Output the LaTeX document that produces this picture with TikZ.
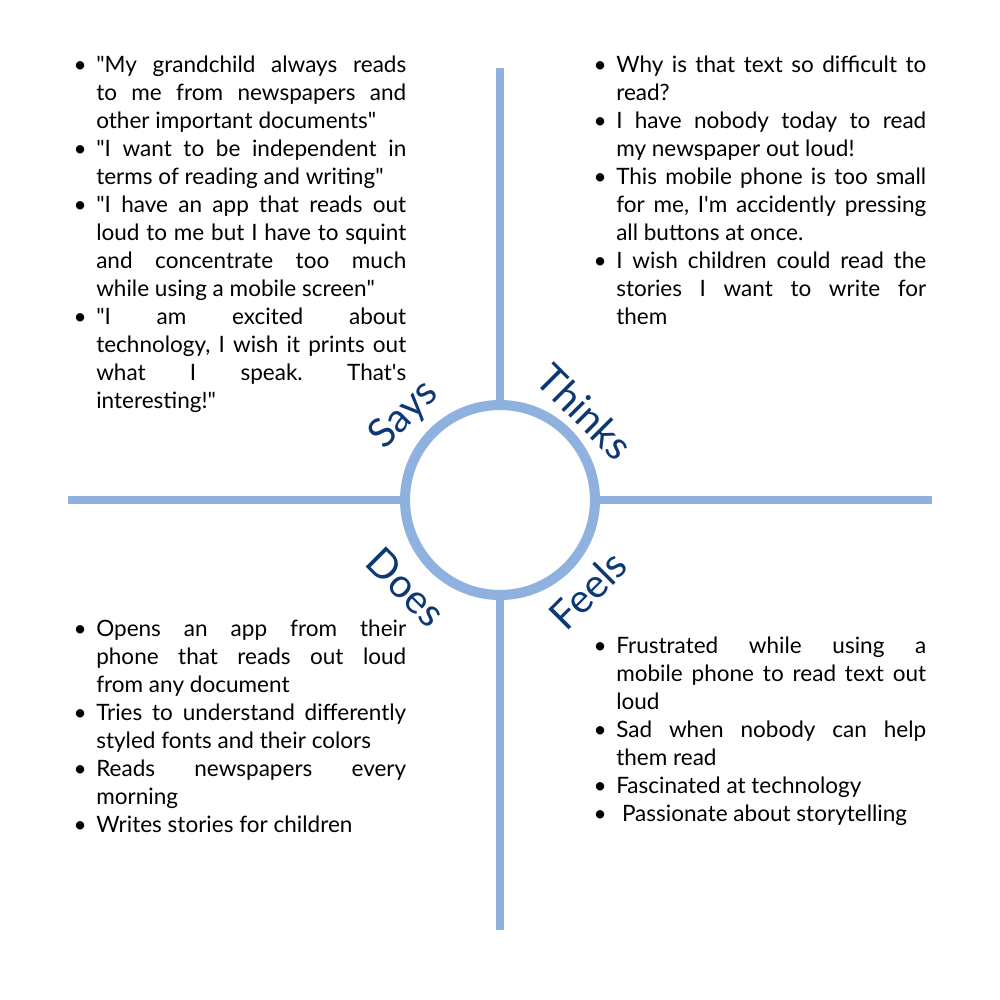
\documentclass[tikz,border=0pt]{standalone}
\usepackage{fontspec}
\setmainfont{Lato}
% same face without the TeX input mapping, for straight quotes
\newfontfamily\rawlato{Lato}[Ligatures=ResetAll]
\definecolor{axisblue}{RGB}{142,177,223}
\definecolor{quadblue}{RGB}{12,56,116}
% straight quote and apostrophe
\newcommand\dq{{\rawlato\char34}}
\newcommand\ap{{\rawlato\char39}}
% bullet hanging 16px to the left of the text column
\newcommand\bul{\noindent\llap{\makebox[24pt]{\textbullet}}}
\newcommand\pitem{\par\bul}
\frenchspacing
\begin{document}
\begin{tikzpicture}[x=0.75pt,y=-0.75pt,
  axisline/.style={draw=axisblue,line width=6.5pt},
  quadtext/.style={anchor=north west,inner sep=0pt,text width=232.5pt,align=justify,
    font=\fontsize{16.9}{21}\selectfont,
    execute at begin node={\hyphenpenalty=10000\exhyphenpenalty=10000\tolerance=10000\parindent=0pt
      \spaceskip=1\fontdimen2\font plus 1\fontdimen3\font minus 0.07em\relax}},
  quadlabel/.style={font=\fontsize{30}{36}\selectfont,text=quadblue,inner sep=0pt}]
\useasboundingbox (0,0) rectangle (1000,1000);
\fill[white] (0,0) rectangle (1000,1000);

% end points of the four axes
\coordinate (top) at (500,68);
\coordinate (bottom) at (500,930);
\coordinate (left) at (68,500);
\coordinate (right) at (932,500);

% central ring
\node[circle,draw=axisblue,fill=white,line width=7.5pt,minimum size=142.5pt,inner sep=0pt] (hub) at (500,500) {};
\draw[axisline] (hub.north) -- (top);
\draw[axisline] (hub.south) -- (bottom);
\draw[axisline] (hub.west) -- (left);
\draw[axisline] (hub.east) -- (right);

% quadrant titles
\node[quadlabel,rotate=45] (says) at (404,415) {Says};
\node[quadlabel,rotate=-45] (thinks) at (585,412) {Thinks};
\node[quadlabel,rotate=-45] (does) at (406,587) {Does};
\node[quadlabel,rotate=45] (feels) at (588,590) {Feels};

% quadrant contents
\node[quadtext] (saystext) at (96,56) {%
\bul \dq My grandchild always reads\linebreak to me from newspapers and\linebreak other important documents\dq
\pitem \dq I want to be independent in\linebreak terms of reading and writing\dq
\pitem \dq I have an app that reads out\linebreak loud to me but I have to squint\linebreak and concentrate too much\linebreak while using a mobile screen\dq
\pitem \dq I am excited about\linebreak technology, I wish it prints out\linebreak what I speak. That\ap s\linebreak interesting!\dq\par};

\node[quadtext] (thinkstext) at (616,56) {%
\bul Why is that text so difficult to\linebreak read?
\pitem I have nobody today to read\linebreak my newspaper out loud!
\pitem This mobile phone is too small\linebreak for me, I\ap m accidently pressing\linebreak all buttons at once.
\pitem I wish children could read the\linebreak stories I want to write for\linebreak them\par};

\node[quadtext] (doestext) at (96,620) {%
\bul Opens an app from their\linebreak phone that reads out loud\linebreak from any document
\pitem Tries to understand differently\linebreak styled fonts and their colors
\pitem Reads newspapers every\linebreak morning
\pitem Writes stories for children\par};

\node[quadtext] (feelstext) at (616,637) {%
\bul Frustrated while using a\linebreak mobile phone to read text out\linebreak loud
\pitem Sad when nobody can help\linebreak them read
\pitem Fascinated at technology
\pitem \ Passionate about storytelling\par};
\end{tikzpicture}
\end{document}
